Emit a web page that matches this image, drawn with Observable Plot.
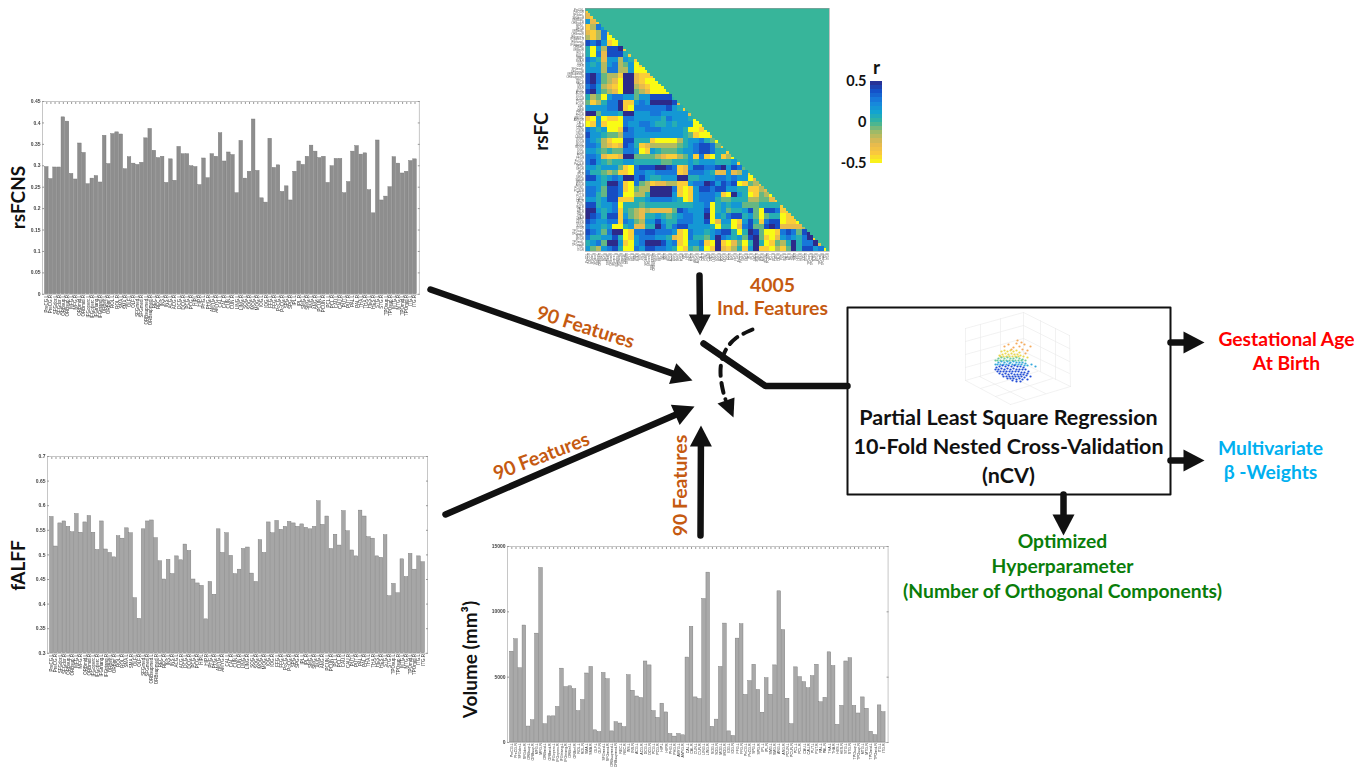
<!DOCTYPE html>
<html>
<head>
<meta charset="utf-8">
<script src="https://cdn.jsdelivr.net/npm/d3@7"></script>
<script src="https://cdn.jsdelivr.net/npm/@observablehq/plot@0.6"></script>
<style>
html,body{margin:0;padding:0;background:#fff;overflow:hidden}
#page{position:relative;width:1354px;height:768px;background:#fff;overflow:hidden}
</style>
</head>
<body>
<div id="page"></div>
<script>
// ---------- DATA ----------
const regionStems = ["PreCG","SFGdor","ORBsup","MFG","ORBmid","IFGoperc","IFGtriang","ORBinf","ROL","SMA","OLF","SFGmed","ORBsupmed","REC","INS","ACG","DCG","PCG","HIP","PHG","AMYG","CAL","CUN","LING","SOG","MOG","IOG","FFG","PoCG","SPG","IPL","SMG","ANG","PCUN","PCL","CAU","PUT","PAL","THA","HES","STG","TPOsup","MTG","TPOmid","ITG"];
const regions = regionStems.flatMap(s => [s + ".L", s + ".R"]);

const rsfcnsValues = [.297,.269,.296,.296,.413,.403,.281,.268,.352,.330,.257,.270,.276,.261,.370,.304,.374,.378,.373,.292,.320,.305,.302,.307,.364,.386,.335,.318,.321,.260,.315,.265,.344,.327,.327,.299,.297,.255,.317,.271,.327,.321,.376,.310,.331,.325,.236,.358,.270,.286,.408,.288,.224,.214,.363,.295,.301,.239,.252,.219,.286,.310,.302,.321,.347,.333,.318,.321,.260,.299,.316,.316,.236,.262,.333,.346,.326,.329,.243,.189,.359,.219,.228,.250,.320,.305,.282,.286,.311,.315];
const falffValues = [.577,.517,.564,.568,.557,.546,.583,.545,.566,.579,.545,.510,.568,.511,.504,.495,.538,.533,.554,.544,.412,.370,.552,.568,.570,.534,.487,.450,.490,.461,.497,.489,.521,.508,.450,.442,.437,.369,.445,.419,.552,.504,.544,.498,.461,.470,.512,.515,.462,.445,.530,.504,.566,.544,.569,.551,.557,.567,.564,.557,.562,.555,.552,.557,.609,.561,.578,.512,.541,.519,.589,.548,.509,.497,.590,.578,.536,.533,.497,.494,.540,.416,.441,.422,.491,.455,.502,.470,.497,.485];
const volumeValues = [6950,7900,5680,8950,1220,1700,8330,13350,1400,2000,2000,2720,5650,4240,4300,4080,2400,3250,5280,5780,930,800,5320,4840,850,1550,1450,1170,5150,3960,3520,3400,6200,5900,2400,1880,2970,2300,650,450,650,550,6500,8850,3450,3320,10980,13000,1200,1750,5780,9100,850,500,7950,9050,3640,4700,5950,4020,2280,4920,3650,5900,11570,8600,3350,1400,5750,5000,4620,4150,5080,5950,3080,3420,6900,5850,1350,2800,6200,6450,2800,2220,3450,2580,820,570,2840,2320];

const rsfcnsTicks = [0,.05,.1,.15,.2,.25,.3,.35,.4,.45];
const falffTicks = [.3,.35,.4,.45,.5,.55,.6,.65,.7];
const volumeTicks = [0,5000,10000,15000];

// rsFC read region by region from the picture (pairs of regions share one reading).
// Levels 0..9 run from r=-0.5 (yellow) to r=+0.5 (navy).
const rsfcLevels = [
"1","2 1","6 2 1","1 3 7 6","2 1 3 7 1","3 1 3 7 0 0","8 7 8 6 1 0 5","5 0 6 3 8 8 9 1","5 0 7 2 8 8 8 5 1",
"7 6 5 2 6 6 3 6 5 1","6 5 6 3 6 7 3 4 6 0 1","6 6 6 3 7 7 3 3 6 0 0 0",
"8 9 7 4 3 3 1 9 9 2 1 1 1","8 9 7 4 3 2 0 9 9 2 1 0 0 0","7 8 6 3 2 1 0 9 9 3 2 1 0 0 0","8 9 6 4 3 2 0 9 9 4 3 2 0 0 0 0",
"5 3 4 0 6 7 7 6 6 4 6 6 8 8 8 8 5","4 1 3 5 7 7 9 1 1 6 7 6 9 9 9 9 8 2","6 6 6 6 7 7 9 1 0 7 7 7 7 7 7 8 6 5 1",
"9 9 4 6 6 6 5 9 9 6 6 6 7 7 6 6 6 6 6 2","1 0 6 0 1 1 0 7 7 6 6 6 6 6 5 7 6 6 6 5 0","0 1 6 1 0 0 0 7 6 6 7 7 6 5 5 6 5 6 6 6 0 0",
"7 6 5 6 0 0 1 8 7 6 6 7 7 7 6 6 6 6 5 0 0 1 0",
"8 6 6 5 4 4 3 7 7 6 6 6 6 6 6 6 6 6 5 4 1 0 0 1",
"7 6 5 3 1 0 0 8 8 5 5 5 1 0 0 0 0 3 5 6 6 7 5 4 0",
"7 7 6 3 2 1 2 8 7 5 1 2 3 3 3 3 3 4 5 6 7 8 8 7 4 1",
"6 6 5 4 5 4 4 7 7 6 0 1 6 5 4 4 4 5 6 6 7 8 8 7 5 5 1",
"7 7 6 2 1 1 2 9 9 4 4 4 4 3 2 1 1 3 4 6 1 7 1 0 5 1 3 0",
"7 8 6 5 4 5 5 6 6 5 5 5 5 5 4 4 5 5 5 6 5 6 6 6 5 5 5 6 1",
"6 6 5 6 6 6 4 1 0 7 8 8 8 9 9 8 7 1 2 6 8 8 7 7 8 9 6 8 7 4",
"7 5 5 4 3 4 1 1 0 7 7 6 6 7 7 7 7 1 2 7 7 7 6 5 2 2 6 2 3 6 1",
"8 8 6 5 6 7 6 9 9 7 8 6 5 5 6 6 6 9 9 5 5 6 6 6 7 7 6 7 6 6 0 2",
"6 6 6 5 9 9 7 1 0 7 4 3 1 2 2 3 3 1 1 6 7 7 9 8 6 8 7 8 0 1 4 3 1",
"7 7 6 4 8 8 7 1 0 4 3 3 9 9 9 9 7 1 0 1 6 8 8 7 8 8 6 6 5 5 1 1 3 2",
"7 7 5 4 8 8 7 0 0 3 3 5 9 9 9 9 6 1 0 1 6 7 7 7 6 1 0 9 6 5 0 1 4 3 0",
"6 6 5 6 8 8 1 1 1 5 5 6 7 7 7 7 6 5 0 1 6 7 7 7 5 4 4 5 5 5 3 3 4 4 2 1",
"8 8 5 6 6 7 0 5 5 5 4 5 5 5 5 5 5 5 5 5 6 6 7 0 5 6 5 6 6 4 4 4 5 5 5 5 1",
"9 9 6 5 6 7 1 5 4 3 2 3 2 2 2 2 4 8 7 6 6 6 8 0 5 6 4 5 5 6 8 4 0 8 8 7 1 1",
"9 8 7 5 8 8 1 6 4 3 2 5 5 6 5 4 5 6 7 7 6 6 9 0 6 5 7 8 8 5 6 4 0 4 5 5 0 1 1",
"8 7 6 6 7 7 1 7 6 4 3 6 6 8 6 5 5 7 7 7 6 6 8 0 2 6 6 0 1 6 8 5 1 7 8 8 0 1 1 0",
"7 6 6 5 6 0 0 5 6 2 2 5 5 9 7 5 7 8 8 6 6 6 6 5 0 5 5 0 2 7 8 4 4 8 9 8 2 2 2 2 3",
"8 7 6 4 7 9 9 0 1 7 7 8 8 7 7 7 6 1 0 7 6 6 5 6 7 8 8 5 0 5 9 8 4 0 0 1 7 8 7 4 8 9",
"7 5 5 6 6 8 5 0 1 6 7 7 7 6 6 5 2 1 0 7 5 5 4 6 9 7 6 5 6 4 8 9 4 1 0 2 6 7 6 5 7 9 1",
"5 6 7 4 9 9 6 1 0 6 7 9 9 9 8 6 7 1 0 6 6 7 1 0 9 1 0 2 4 0 5 9 5 0 1 4 3 5 9 5 7 7 9 2",
"6 4 3 6 7 8 5 0 0 7 6 8 8 7 7 6 5 0 1 5 4 6 0 1 9 2 1 3 5 1 6 9 1 1 0 3 1 4 9 5 8 8 6 7 0"
];

const colorDomain = [-.5,-.38,-.26,-.12,0,.12,.25,.38,.5];
const colorRange  = ["#f9fb15","#fbc93c","#e5b94f","#9cba68","#37b59a","#12a5cf","#1882de","#1450c8","#2c2a8a"];
const colorbarEdges = [-.5,-.45,-.4,-.35,-.3,-.25,-.2,-.15,-.1,-.05,0,.05,.1,.15,.2,.25,.3,.35,.4,.45];
const colorbarTicks = [-.5,0,.5];

// the small 3-D cloud in the PLS box, read band by band
const cloudBlue = [[996,367],[999,366],[1002,365],[1005,366],[1008,365],[1011,366],[1014,365],[1017,366],[1020,366],[1023,367],[995,369],[998,369],[1001,368],[1004,369],[1007,368],[1010,369],[1013,368],[1016,369],[1019,369],[1022,369],[1025,369],[1028,371],[997,371],[1000,371],[1003,371],[1006,371],[1009,371],[1012,371],[1015,371],[1018,371],[1021,372],[1024,372],[1027,373],[999,373],[1002,374],[1005,373],[1008,374],[1011,373],[1014,374],[1017,374],[1020,374],[1023,374],[1026,375],[1003,376],[1006,376],[1009,376],[1012,376],[1015,376],[1018,376],[1021,376],[1024,377],[1007,378],[1010,378],[1013,378],[1016,379],[1019,378],[1022,379],[1012,380],[1016,381],[1020,381],[1027,379],[1030,376]];
const cloudTeal = [[995,364],[998,362],[1001,361],[1004,362],[1007,361],[1010,362],[1013,361],[1016,362],[1019,362],[1022,362],[1025,363],[997,364],[1000,364],[1003,364],[1006,364],[1009,363],[1012,364],[1015,364],[1018,364],[1021,364],[1024,365],[1027,365],[1031,364],[1035,366]];
const cloudGreen = [[995,360],[998,358],[1001,357],[1004,358],[1007,357],[1010,358],[1013,358],[1016,357],[1019,358],[1022,359],[1025,360],[997,360],[1000,360],[1003,360],[1006,360],[1009,360],[1012,360],[1015,360],[1018,360],[1021,360]];
const cloudYellow = [[999,355],[1002,354],[1005,353],[1008,354],[1011,353],[1014,354],[1017,354],[1020,355],[1023,356],[1001,351],[1004,350],[1007,351],[1010,350],[1013,351],[1016,350],[1019,352],[1027,357],[1000,356],[1003,356],[1006,356],[1009,356],[1012,356],[1015,356],[1018,356]];
const cloudOrange = [[1004,346],[1008,344],[1013,347],[1016,343],[1019,346],[1022,349],[1024,344],[1027,350],[1030,346],[1017,340],[1011,349],[1025,353],[1021,342]];

const cubeEdges = [[[965,328],[1023,312]],[[1023,312],[1069,335]],[[965,328],[965,380]],[[1023,312],[1023,363]],[[1069,335],[1070,386]],[[965,380],[1023,363]],[[1023,363],[1070,386]],[[965,380],[1010,404]],[[1010,404],[1070,386]],[[965,341],[1023,325]],[[965,354],[1023,338]],[[965,367],[1023,351]],[[1023,325],[1069,348]],[[1023,338],[1069,361]],[[1023,351],[1069,373]],[[980,324],[980,376]],[[1000,318],[1000,370]],[[1040,320],[1040,371]],[[1055,328],[1055,379]],[[980,388],[1037,371]],[[995,396],[1052,378]],[[979,376],[1025,399]],[[1000,371],[1045,393]]];

const labelsOrange = [
  {t:"4005",x:772,y:285},{t:"Ind. Features",x:772,y:308},
  {t:"90 Features",x:585,y:327,r:17.5},{t:"90 Features",x:541,y:456,r:-21},{t:"90 Features",x:680,y:485,r:-90}
];
const labelsAxis = [
  {t:"rsFCNS",x:18,y:197,r:-90},{t:"fALFF",x:18,y:565,r:-90},{t:"Volume (mm³)",x:470,y:659,r:-90},{t:"rsFC",x:541,y:131,r:-90},{t:"r",x:876,y:67}
];
const labelsBox = [
  {t:"Partial Least Square Regression",x:1008,y:418},{t:"10-Fold Nested Cross-Validation",x:1008,y:447},{t:"(nCV)",x:1008,y:476}
];
const labelsRed = [{t:"Gestational Age",x:1286,y:339},{t:"At Birth",x:1286,y:363}];
const labelsBlue = [{t:"Multivariate",x:1270,y:448},{t:"β -Weights",x:1270,y:472}];
const labelsGreen = [{t:"Optimized",x:1062,y:541},{t:"Hyperparameter",x:1062,y:566},{t:"(Number of Orthogonal Components)",x:1062,y:591}];

// arrows: [start, tip]
const arrows = [
  [[430,289],[692,380]],[[445,514],[694,406]],[[700,535],[700.5,425]],[[699,275],[699.5,335]],
  [[1170,342],[1204,342]],[[1170,460],[1204,460]],[[1063,494],[1063,535]]
];
const junction = [[703,343],[765,385.5],[847,385.5]];
const dashedArc = [[752,329],[735,338],[724,352],[720,370],[722,388],[725,399]];
const dashedHead = [[717,403],[734,397],[733,417]];
const boxCorners = [[847,307],[1170,307],[1170,494],[847,494],[847,307]];

// ---------- DRAWING ----------
const page = document.getElementById("page");
const place = (plot, left, top, extra = {}) => {
  Object.assign(plot.style, {position:"absolute", left:left+"px", top:top+"px", maxWidth:"none", background:"transparent"}, extra);
  page.appendChild(plot);
};
const soft = {filter:"blur(0.45px)"};

// overlay diagram in page coordinates
const headLen = 21, headW = 22;
const heads = arrows.flatMap(([a,b],i) => {
  const dx=b[0]-a[0], dy=b[1]-a[1], n=Math.hypot(dx,dy), ux=dx/n, uy=dy/n;
  const bx=b[0]-ux*headLen, by=b[1]-uy*headLen;
  return [[b[0],b[1],i],[bx-uy*headW/2,by+ux*headW/2,i],[bx+uy*headW/2,by-ux*headW/2,i]];
});
const shafts = arrows.flatMap(([a,b],i) => {
  const dx=b[0]-a[0], dy=b[1]-a[1], n=Math.hypot(dx,dy);
  return [[a[0],a[1],i],[b[0]-dx/n*(headLen-1),b[1]-dy/n*(headLen-1),i]];
});
const seg = cubeEdges.flatMap((e,i)=>e.map(p=>[p[0],p[1],i]));
const txt = (data,fill,size,extra={}) => Plot.text(data,{x:"x",y:"y",text:"t",rotate:d=>d.r||0,fill,fontSize:size,fontWeight:700,fontFamily:"Lato, 'Noto Sans', sans-serif",...extra});
const cloud = (pts,fill)=>Plot.dot(pts,{x:d=>d[0],y:d=>d[1],r:1.1,fill,stroke:"none",opacity:.9});

place(Plot.plot({
  width:1354,height:768,margin:0,
  x:{domain:[0,1354],axis:null},
  y:{domain:[768,0],axis:null},
  marks:[
    Plot.line(boxCorners,{x:d=>d[0],y:d=>d[1],stroke:"#111",strokeWidth:2,fill:"#fff"}),
    Plot.line(seg,{x:d=>d[0],y:d=>d[1],z:d=>d[2],stroke:"#e9e9e9",strokeWidth:.6}),
    cloud(cloudOrange,"#f4a24a"),cloud(cloudYellow,"#e8d43a"),cloud(cloudGreen,"#5cc48f"),cloud(cloudTeal,"#1f9fd8"),cloud(cloudBlue,"#0a38d2"),
    Plot.line(shafts,{x:d=>d[0],y:d=>d[1],z:d=>d[2],stroke:"#111",strokeWidth:6.5}),
    Plot.line(heads,{x:d=>d[0],y:d=>d[1],z:d=>d[2],stroke:"none",fill:"#111"}),
    Plot.line(junction,{x:d=>d[0],y:d=>d[1],stroke:"#111",strokeWidth:6.5,strokeLinejoin:"miter"}),
    Plot.line(dashedArc,{x:d=>d[0],y:d=>d[1],stroke:"#111",strokeWidth:4,strokeDasharray:"10 7",curve:"natural"}),
    Plot.line(dashedHead,{x:d=>d[0],y:d=>d[1],stroke:"none",fill:"#111"}),
    txt(labelsOrange,"#c55a11",19.4),
    txt(labelsAxis,"#111",19),
    txt(labelsBox,"#111",21.5),
    txt(labelsRed,"#ff0000",19.3),
    txt(labelsBlue,"#00b0f0",19.3),
    txt(labelsGreen,"#0a7d0a",19.3)
  ]
}),0,0);

// bar panels
function barPanel({values,ticks,baseline,frame,fill,fmt,labelSize,bottom}){
  const [x0,y0,x1,y1]=frame, ml=24, mr=3, mt=3, mb=bottom;
  const rows = regions.map((name,i)=>({name,v:values[i]}));
  const top = ticks[ticks.length-1];
  const plot = Plot.plot({
    width:x1-x0+ml+mr,height:y1-y0+mt+mb,marginLeft:ml,marginRight:mr,marginTop:mt,marginBottom:mb,
    style:{fontFamily:"'Liberation Sans',sans-serif"},
    x:{domain:regions,padding:.13,paddingOuter:.6,align:.5,round:false,label:null},
    y:{domain:[baseline,top],label:null},
    marks:[
      Plot.barY(rows,{x:"name",y1:()=>baseline,y2:"v",fill,stroke:"#737373",strokeWidth:.4}),
      Plot.frame({stroke:"#b8b8b8",strokeWidth:.8}),
      Plot.axisY({ticks,tickSize:-2,tickFormat:fmt,fontSize:5,fontWeight:700,fill:"#444",stroke:"#999",tickPadding:4,label:null}),
      Plot.axisY({anchor:"right",ticks,tickSize:-2,tickFormat:()=>"",stroke:"#999",label:null}),
      Plot.axisX({anchor:"top",tickSize:-2,tickFormat:()=>"",stroke:"#999",label:null}),
      Plot.axisX({anchor:"bottom",tickSize:0,tickRotate:-90,fontSize:labelSize,fill:"#333",tickPadding:.8,label:null})
    ]
  });
  place(plot,x0-ml,y0-mt,soft);
}
const fmtTick = d => d===0?"0":String(d);
barPanel({values:rsfcnsValues,ticks:rsfcnsTicks,baseline:0,frame:[41.7,100.7,418.5,293.5],fill:"#8e8e8e",fmt:fmtTick,labelSize:4.5,bottom:36});
barPanel({values:falffValues,ticks:falffTicks,baseline:.3,frame:[46.7,455.7,426.7,652.5],fill:"#a6a6a6",fmt:fmtTick,labelSize:4.5,bottom:36});
barPanel({values:volumeValues,ticks:volumeTicks,baseline:0,frame:[506.7,545.7,887.3,741.7],fill:"#a9a9a9",fmt:fmtTick,labelSize:3.6,bottom:26});

// rsFC matrix
const rsfcMatrix = regions.flatMap((rowName,i)=>regions.map((colName,j)=>{
  const level = j<i ? +rsfcLevels[i>>1].split(" ")[j>>1] : null;
  return {rowName,colName,r: level===null ? 0 : -.5+level/9};
}));
const colorOpt = {type:"linear",domain:colorDomain,range:colorRange,interpolate:"rgb",clamp:true};
place(Plot.plot({
  width:244+22,height:243+24,marginLeft:20,marginRight:2,marginTop:2,marginBottom:22,
  style:{fontFamily:"'Liberation Sans',sans-serif"},
  x:{domain:regions,padding:0,round:false,label:null},
  y:{domain:regions,padding:0,round:false,label:null},
  color:colorOpt,
  marks:[
    Plot.cell(rsfcMatrix,{x:"colName",y:"rowName",fill:"r",shapeRendering:"crispEdges"}),
    Plot.frame({stroke:"#999",strokeWidth:.6}),
    Plot.axisY({tickSize:0,fontSize:2.6,fill:"#555",tickPadding:1.5,label:null}),
    Plot.axisX({tickSize:0,tickRotate:-90,fontSize:2.6,fill:"#555",tickPadding:1.5,label:null})
  ]
}),585-20,8-2,soft);

// colour bar
const step = .05;
place(Plot.plot({
  width:60,height:82+20,marginLeft:40,marginRight:8,marginTop:10,marginBottom:10,
  style:{fontFamily:"Lato, sans-serif"},
  x:{domain:[0,1],axis:null},
  y:{domain:[-.5,.5],label:null},
  color:colorOpt,
  marks:[
    Plot.rect(colorbarEdges,{x1:()=>0,x2:()=>1,y1:d=>d,y2:d=>d+step,fill:d=>d+step/2,shapeRendering:"crispEdges"}),
    Plot.axisY({ticks:colorbarTicks,tickSize:0,tickPadding:4,fontSize:14.5,fontWeight:700,fill:"#111",tickFormat:d=>String(d),label:null})
  ]
}),870-40,81-10);
</script>
</body>
</html>
